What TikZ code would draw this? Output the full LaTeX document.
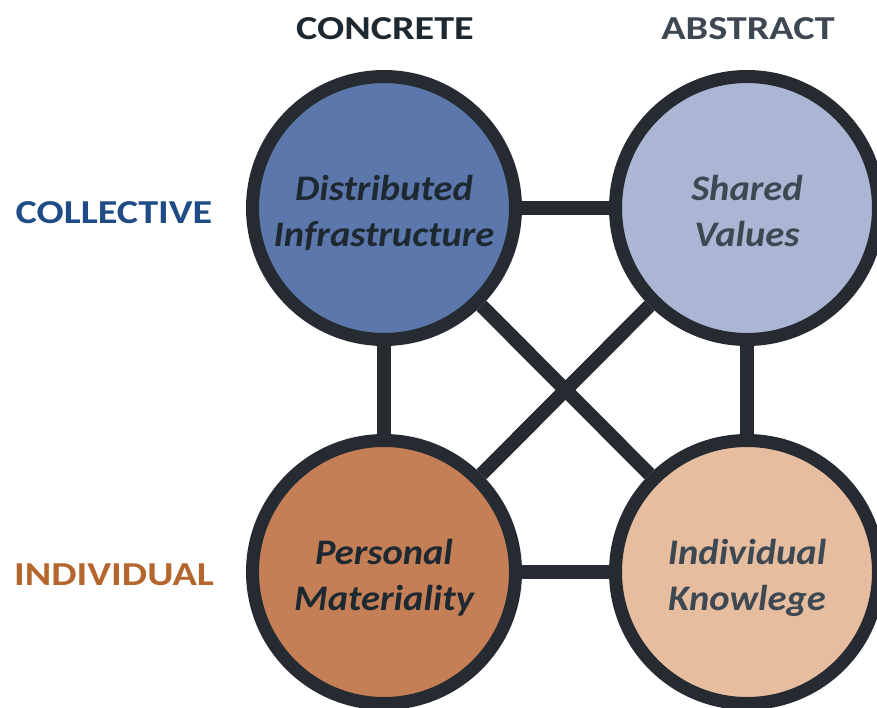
\documentclass[tikz,border=0pt]{standalone}
\usepackage{fontspec}
\setmainfont{Carlito}
\newfontfamily\axisfont[FakeStretch=1.2]{Carlito}
\newfontfamily\quadfont[FakeStretch=1.07]{Carlito}
\definecolor{ring}{HTML}{262B31}
\definecolor{fillA}{HTML}{5B77AB}
\definecolor{fillB}{HTML}{AAB6D4}
\definecolor{fillC}{HTML}{C47F56}
\definecolor{fillD}{HTML}{E7BD9F}
\definecolor{blueLbl}{HTML}{1F4C86}
\definecolor{orangeLbl}{HTML}{B5662E}
\definecolor{darkTxt}{HTML}{1E2830}
\definecolor{greyTxt}{HTML}{3E4852}
\begin{document}
\begin{tikzpicture}[x=1pt,y=-1pt,
  quad/.style={circle, draw=ring, line width=13pt, minimum size=263pt, inner sep=0pt},
  qtext/.style={align=center, inner sep=0pt,
    font=\quadfont\fontsize{36}{46}\selectfont\bfseries\itshape},
  link/.style={draw=ring, line width=14pt},
  axis/.style={anchor=base, inner sep=0pt, font=\axisfont\fontsize{33.5}{40}\selectfont\bfseries}]
  \useasboundingbox (0,0) rectangle (877,707);
  \fill[white] (0,0) rectangle (877,707);

  % the four quadrants
  \node[quad, fill=fillA] (di) at (384,208) {};
  \node[quad, fill=fillB] (sv) at (747,208) {};
  \node[quad, fill=fillC] (pm) at (384,572) {};
  \node[quad, fill=fillD] (ik) at (747,572) {};

  % connectors between every pair
  \path[link] (di) -- (sv);
  \path[link] (pm) -- (ik);
  \path[link] (di) -- (pm);
  \path[link] (sv) -- (ik);
  \path[link] (di) -- (ik);
  \path[link] (sv) -- (pm);

  % quadrant names
  \node[qtext, text=darkTxt] (diT) at ([yshift=-6pt]di.center) {\strut Distributed\\\strut Infrastructure};
  \node[qtext, text=greyTxt] (svT) at ([yshift=-6pt]sv.center) {\strut Shared\\\strut Values};
  \node[qtext, text=darkTxt] (pmT) at ([yshift=-6pt]pm.center) {\strut Personal\\\strut Materiality};
  \node[qtext, text=greyTxt] (ikT) at ([yshift=-6pt]ik.center) {\strut Individual\\\strut Knowlege};

  % axis labels
  \node[axis, text=darkTxt] (conc) at (385,39) {CONCRETE};
  \node[axis, text=greyTxt] (abst) at (748,39) {ABSTRACT};
  \node[axis, text=blueLbl] (coll) at (114,223) {COLLECTIVE};
  \node[axis, text=orangeLbl] (indi) at (114,585) {INDIVIDUAL};
\end{tikzpicture}
\end{document}
